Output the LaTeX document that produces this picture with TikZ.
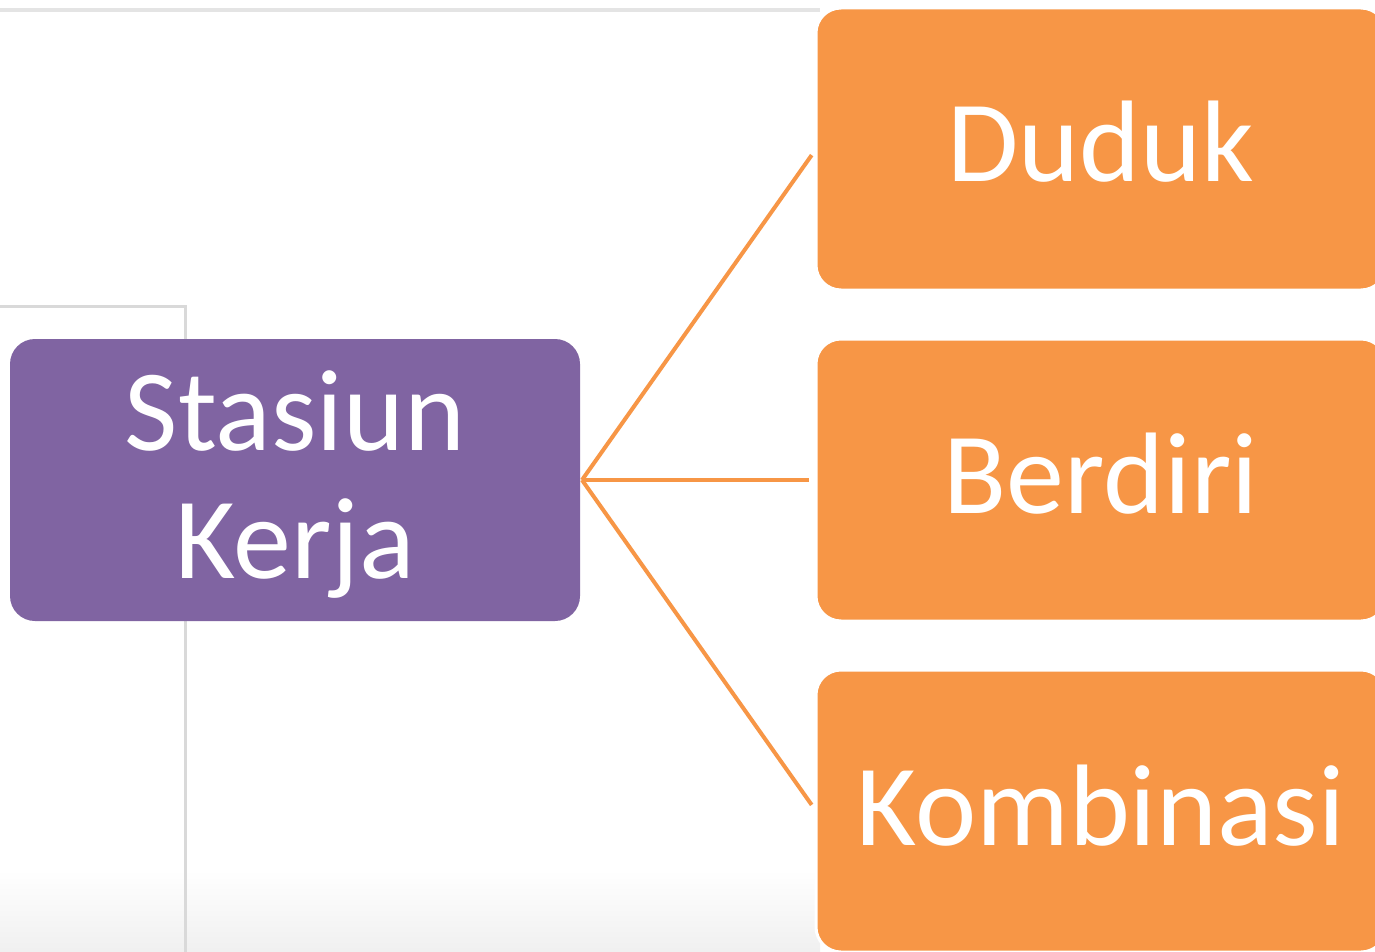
\documentclass[tikz,border=0pt]{standalone}
\usepackage{fontspec}
\setmainfont{Carlito}
\definecolor{purp}{HTML}{8064A2}
\definecolor{oran}{HTML}{F79646}
\definecolor{frame}{HTML}{D9D9D9}
\begin{document}
\begin{tikzpicture}[x=1pt,y=-1pt,
  box/.style={rounded corners=25pt, inner sep=0pt, outer sep=0pt, anchor=north west},
  lbl/.style={text=white, inner sep=0pt, anchor=base, font=\fontsize{116}{128}\selectfont},
  conn/.style={draw=oran, line width=4pt, shorten >=7.5pt}]
\useasboundingbox (0,0) rectangle (1375,952);
\begin{scope}
\clip (0,0) rectangle (1375,952);
\fill[white] (0,0) rectangle (1375,952);
\shade[top color=white, bottom color=black!6] (0,870) rectangle (820,952);
% background frame lines
\draw[frame!70, line width=4pt] (0,10) -- (820,10);
\draw[frame, line width=3pt] (0,306) -- (185,306) -- (185,952);
% nodes
\node[box, fill=purp, minimum width=570pt, minimum height=282pt] (stasiun) at (10,339) {};
\node[box, fill=oran, draw=white, line width=3pt, minimum width=570pt, minimum height=282pt] (duduk) at (816,8) {};
\node[box, fill=oran, draw=white, line width=3pt, minimum width=570pt, minimum height=282pt] (berdiri) at (816,339) {};
\node[box, fill=oran, draw=white, line width=3pt, minimum width=570pt, minimum height=282pt] (kombinasi) at (816,670) {};
\node[lbl] (t1) at (295,450) {Stasiun};
\node[lbl] (t2) at (295,578) {Kerja};
\node[lbl] (t3) at (1101,182) {Duduk};
\node[lbl] (t4) at (1101,513) {Berdiri};
\node[lbl] (t5) at (1101,845) {Kombinasi};
% connectors
\coordinate (hub) at ([xshift=2pt]stasiun.east);
\draw[conn] (hub) -- (duduk.west);
\draw[conn] (hub) -- (berdiri.west);
\draw[conn] (hub) -- (kombinasi.west);
\end{scope}
\end{tikzpicture}
\end{document}
